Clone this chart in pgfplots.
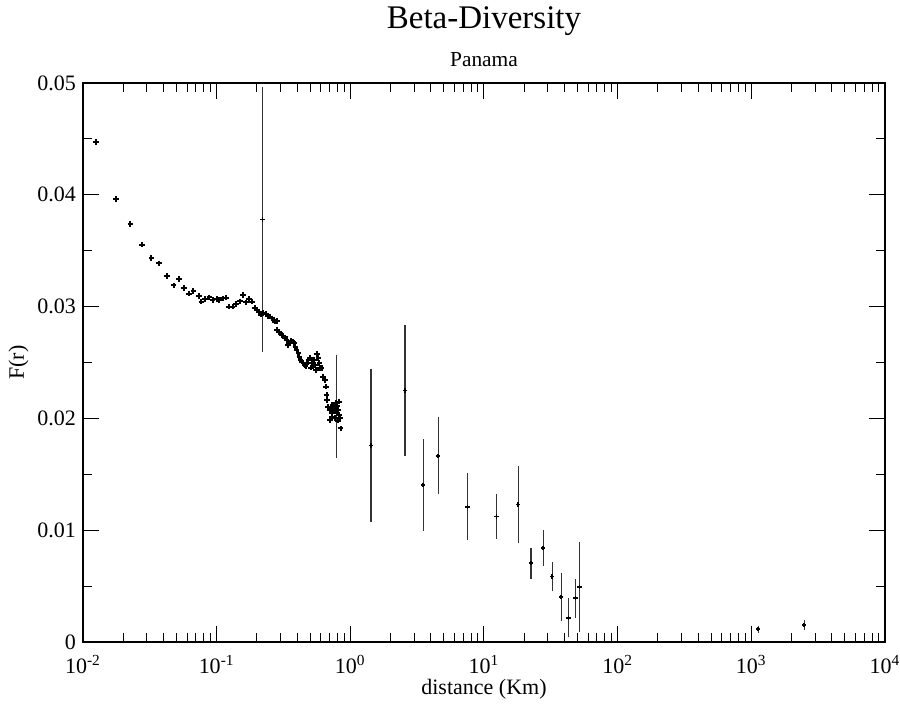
\documentclass[border=0pt]{standalone}
\usepackage{fontspec}
\setmainfont{Liberation Serif}
\usepackage{pgfplots}
\pgfplotsset{compat=1.18}
\usepackage{pgfplotstable}

% individual pair distances
\pgfplotstableread{
x y
0.01251 0.04470
0.01766 0.03962
0.02266 0.03739
0.02777 0.03554
0.03254 0.03435
0.03722 0.03387
0.04264 0.03272
0.04770 0.03189
0.05226 0.03247
0.05726 0.03165
0.06240 0.03117
0.06709 0.03142
0.07349 0.03097
0.07699 0.03044
0.08220 0.03070
0.08810 0.03083
0.09339 0.03059
0.1000 0.03068
0.1046 0.03059
0.1110 0.03074
0.1174 0.03081
0.1243 0.02999
0.1318 0.02999
0.1395 0.03023
0.1494 0.03047
0.1582 0.03104
0.1657 0.03037
0.1745 0.03066
0.1837 0.03044
0.1945 0.02985
0.2014 0.02970
0.2084 0.02954
0.2135 0.02929
0.2233 0.02945
0.2339 0.02934
0.2409 0.02916
0.2506 0.02910
0.2581 0.02895
0.2653 0.02880
0.2732 0.02865
0.2813 0.02871
0.2842 0.02791
0.2942 0.02775
0.3013 0.02761
0.3066 0.02746
0.3152 0.02737
0.3246 0.02725
0.3342 0.02701
0.3400 0.02657
0.3477 0.02677
0.3580 0.02695
0.3706 0.02686
0.3790 0.02672
0.3876 0.02641
0.3970 0.02612
0.4081 0.02582
0.4152 0.02552
0.4253 0.02522
0.4327 0.02507
0.4448 0.02493
0.4580 0.02478
0.4716 0.02487
0.4848 0.02522
0.4992 0.02538
0.5140 0.02493
0.5230 0.02469
0.5441 0.02478
0.5536 0.02433
0.5604 0.02576
0.5760 0.02538
0.5860 0.02493
0.5929 0.02448
0.6106 0.02448
0.6275 0.02373
0.6461 0.02343
0.6574 0.02284
0.6655 0.02209
0.6724 0.02165
0.6840 0.02105
0.7043 0.02075
0.7254 0.02046
0.7456 0.02090
0.7678 0.02105
0.7812 0.02135
0.7907 0.02046
0.8128 0.02075
0.8270 0.02030
0.8369 0.02001
0.8470 0.01911
0.7678 0.02001
0.7043 0.01986
0.7254 0.02015
0.5050 0.02455
0.5340 0.02520
0.4620 0.02470
0.7350 0.02120
0.7990 0.02110
0.8050 0.01980
0.7580 0.02060
0.8200 0.02150
}\pairdata

% binned averages with standard deviations
\pgfplotstableread{
x y e
0.2210 0.03780 0.01160
0.7907 0.02109 0.00434
1.428 0.01756 0.00656
2.564 0.02248 0.00560
3.514 0.01404 0.00383
4.550 0.01665 0.00318
7.551 0.01210 0.00275
12.44 0.01123 0.00175
18.05 0.01229 0.00317
22.47 0.00704 0.00110
27.77 0.00843 0.00134
32.43 0.00584 0.00104
37.87 0.00405 0.00188
43.01 0.00217 0.00148
48.53 0.00391 0.00146
51.64 0.00490 0.00376
1127 0.00114 0.00005
2490 0.00152 0.00015
}\bindata

\begin{document}
\begin{tikzpicture}
\begin{axis}[
  name=main,
  width=401pt, height=279.5pt, scale only axis,
  xmode=log, xmin=1e-2, xmax=1e4,
  ymin=0, ymax=0.05,
  axis line style={line width=1pt},
  tick style={black, line width=0.5pt},
  major tick length=8pt, minor tick length=4.5pt,
  tick align=inside,
  scaled y ticks=false,
  xtick={1e-2,1e-1,1,10,100,1000,10000},
  xticklabels={10\textsuperscript{-2},10\textsuperscript{-1},10\textsuperscript{0},10\textsuperscript{1},10\textsuperscript{2},10\textsuperscript{3},10\textsuperscript{4}},
  minor xtick={0.02,0.03,0.04,0.05,0.06,0.07,0.08,0.09,
               0.2,0.3,0.4,0.5,0.6,0.7,0.8,0.9,
               2,3,4,5,6,7,8,9,
               20,30,40,50,60,70,80,90,
               200,300,400,500,600,700,800,900,
               2000,3000,4000,5000,6000,7000,8000,9000},
  ytick={0,0.01,0.02,0.03,0.04,0.05},
  yticklabels={0,0.01,0.02,0.03,0.04,0.05},
  minor ytick={0.005,0.015,0.025,0.035,0.045},
  ticklabel style={font=\fontsize{11}{13}\selectfont},
  xticklabel style={yshift=-3pt},
  xlabel={distance (Km)},
  xlabel style={font=\fontsize{11}{13}\selectfont, at={(axis description cs:0.5,0)}, anchor=base, yshift=-26.5pt},
  ylabel={F(r)},
  ylabel style={font=\fontsize{11}{13}\selectfont, at={(axis description cs:-0.0736,0.5)}, anchor=base},
]
\addplot[only marks, mark=+, mark size=1.4pt, line width=1pt, black]
  table[x=x, y=y] {\pairdata};
\addplot[only marks, mark=+, mark size=1.1pt, line width=0.8pt, black,
  error bars/.cd, y dir=both, y explicit,
  error bar style={line width=0.75pt, black!80},
  error mark options={line width=0.75pt, mark size=1.5pt, black!80}]
  table[x=x, y=y, y error=e] {\bindata};
\end{axis}
\node[font=\fontsize{16.5}{19}\selectfont, anchor=base] at ([yshift=27pt]main.north) {Beta-Diversity};
\node[font=\fontsize{10.7}{12}\selectfont, anchor=base] at ([yshift=8pt]main.north) {Panama};
\pgfresetboundingbox
\path[use as bounding box] ([xshift=-41.5pt, yshift=-32.5pt]main.south west) rectangle ([xshift=7.5pt, yshift=41.5pt]main.north east);
\end{tikzpicture}
\end{document}
